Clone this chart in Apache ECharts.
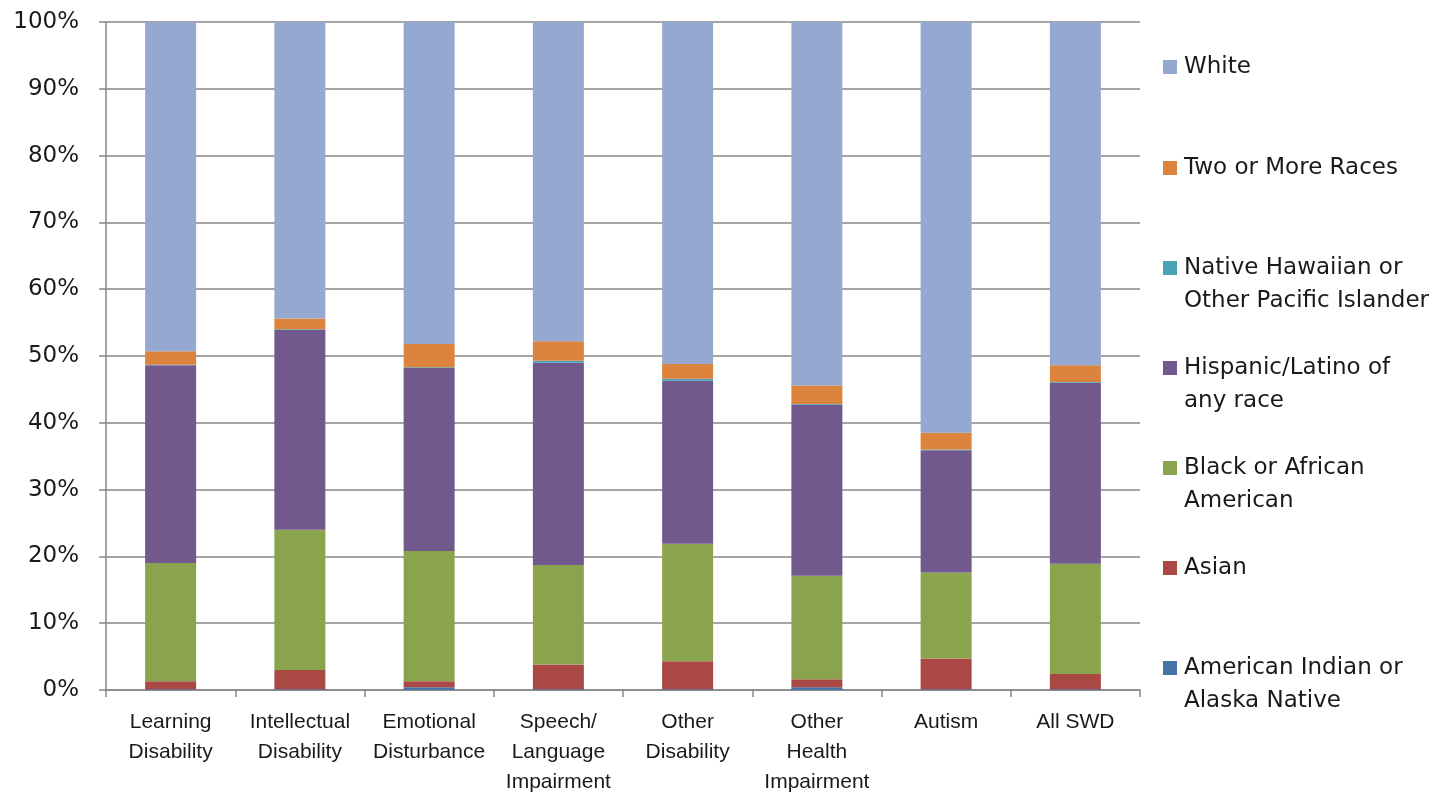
<!DOCTYPE html>
<html>
<head>
<meta charset="utf-8">
<script src="https://cdn.jsdelivr.net/npm/echarts@6/dist/echarts.min.js"></script>
<style>
html,body{margin:0;padding:0;background:#fff;}
#c{width:1442px;height:795px;}
</style>
</head>
<body>
<div id="c"></div>
<script>
const categories = ['Learning\nDisability','Intellectual\nDisability','Emotional\nDisturbance','Speech/\nLanguage\nImpairment','Other\nDisability','Other\nHealth\nImpairment','Autism','All SWD'];
const seriesNames = ['American Indian or Alaska Native','Asian','Black or African American','Hispanic/Latino of any race','Native Hawaiian or Other Pacific Islander','Two or More Races','White'];
const aian     = [0.1, 0.1, 0.4, 0.1, 0.1, 0.4, 0.1, 0.1];
const asian    = [1.2, 2.9, 0.9, 3.7, 4.2, 1.2, 4.6, 2.3];
const black    = [17.7, 21.0, 19.5, 14.9, 17.6, 15.5, 12.9, 16.5];
const hispanic = [29.6, 29.9, 27.4, 30.3, 24.4, 25.6, 18.3, 27.1];
const nhpi     = [0.1, 0.1, 0.1, 0.3, 0.3, 0.1, 0.1, 0.1];
const twoPlus  = [2.0, 1.6, 3.5, 2.9, 2.2, 2.8, 2.5, 2.5];
const white    = [49.3, 44.4, 48.2, 47.8, 51.2, 54.4, 61.5, 51.4];
const yTicks = [0,10,20,30,40,50,60,70,80,90,100];

const values = [aian, asian, black, hispanic, nhpi, twoPlus, white];
const colors = ['#4572A7','#AA4845','#8AA44E','#71598E','#4BA1B8','#DC843E','#95A9D0'];
const legendLabels = {
  'White':'White',
  'Two or More Races':'Two or More Races',
  'Native Hawaiian or Other Pacific Islander':'\nNative Hawaiian or\nOther Pacific Islander',
  'Hispanic/Latino of any race':'\nHispanic/Latino of\nany race',
  'Black or African American':'\nBlack or African\nAmerican',
  'Asian':'Asian',
  'American Indian or Alaska Native':'\nAmerican Indian or\nAlaska Native'
};
const legendCenters = {
  'White':67,'Two or More Races':168,'Native Hawaiian or Other Pacific Islander':268,
  'Hispanic/Latino of any race':368,'Black or African American':468,'Asian':568,
  'American Indian or Alaska Native':668
};
const LH = 33;
const legends = seriesNames.map(n => {
  const multi = legendLabels[n].startsWith('\n');
  return {
    data:[n], orient:'vertical', left:1163, top: legendCenters[n] - (multi ? 1.5*LH : 0.5*LH),
    padding:0, itemWidth:14, itemHeight:14, itemGap:0, selectedMode:false,
    icon:'rect',
    formatter: name => legendLabels[name],
    textStyle:{fontFamily:'DejaVu Sans', fontSize:23, color:'#1a1a1a', lineHeight:LH, padding:[0,0,0,2]}
  };
});

const chart = echarts.init(document.getElementById('c'), null, {renderer:'canvas'});
chart.setOption({
  animation:false,
  backgroundColor:'#fff',
  legend: legends,
  grid:{left:106, right:302, top:22, bottom:105, containLabel:false, outerBoundsMode:'none'},
  xAxis:{
    type:'category', data:categories,
    axisLine:{lineStyle:{color:'#878787', width:1.5}},
    axisTick:{show:true, length:7, lineStyle:{color:'#878787', width:1.5}},
    axisLabel:{interval:0, margin:17, fontFamily:'Liberation Sans', fontSize:21, lineHeight:30, color:'#1a1a1a'}
  },
  yAxis:{
    type:'value', min:0, max:100, interval:10,
    axisLine:{show:true, lineStyle:{color:'#878787', width:1.5}},
    axisTick:{show:true, length:7, lineStyle:{color:'#878787', width:1.5}},
    splitLine:{lineStyle:{color:'#878787', width:1.5}},
    axisLabel:{formatter: v => v + '%', margin:27, fontFamily:'DejaVu Sans', fontSize:23, color:'#1a1a1a'}
  },
  series: seriesNames.map((n,i) => ({
    name:n, type:'bar', stack:'total', barWidth:51,
    data: values[i],
    itemStyle:{color:colors[i]},
    emphasis:{disabled:true}
  }))
});
</script>
</body>
</html>
